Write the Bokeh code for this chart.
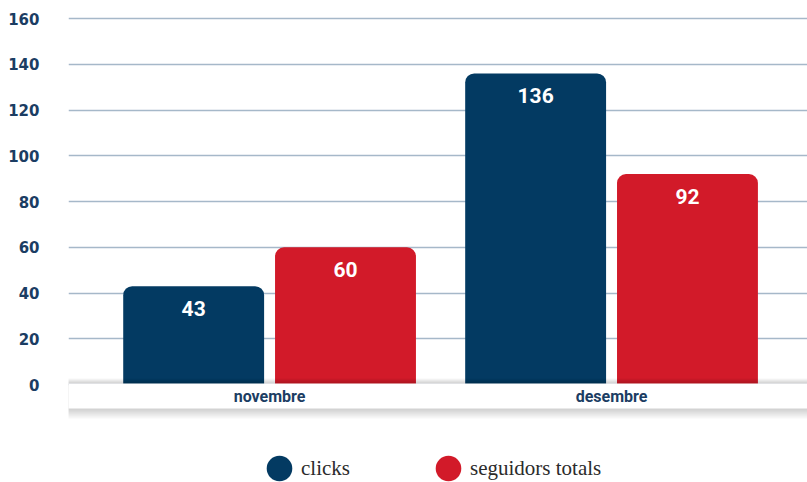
from bokeh.plotting import figure
from bokeh.models import (Range1d, ColumnDataSource, FixedTicker, Label,
                          BoxAnnotation, Legend, LegendItem)
from bokeh.transform import dodge
from bokeh.core.properties import value
from bokeh.embed import file_html
from bokeh.resources import INLINE

# ---- data ----
months = ["novembre", "desembre"]
clicks = [43, 136]
seguidors = [60, 92]
series_names = ["clicks", "seguidors totals"]
y_ticks = [0, 20, 40, 60, 80, 100, 120, 140, 160]

# ---- style ----
colors = ["#033a62", "#d21a29"]
label_blue = "#1b3d63"
grid_color = "#a6b8c9"

src = ColumnDataSource(dict(
    x=list(range(len(months))),
    month=months,
    clicks=clicks,
    seguidors=seguidors,
    clicks_lbl=[str(v) for v in clicks],
    seg_lbl=[str(v) for v in seguidors],
))

p = figure(width=807, height=482, output_backend="svg", toolbar_location=None,
           x_range=Range1d(-0.588, 1.573), y_range=Range1d(-42.84, 167.87),
           min_border_left=68, min_border_right=0, min_border_top=0,
           min_border_bottom=0)
p.outline_line_color = None
p.xaxis.visible = False
p.xgrid.visible = False
p.ygrid.ticker = FixedTicker(ticks=y_ticks)
p.ygrid.grid_line_color = grid_color
p.ygrid.grid_line_width = 1.5

ax = p.yaxis[0]
ax.ticker = FixedTicker(ticks=y_ticks)
ax.axis_line_color = None
ax.major_tick_line_color = None
ax.minor_tick_line_color = None
ax.major_label_standoff = 23
ax.major_label_text_color = label_blue
ax.major_label_text_font = "DejaVu Sans"
ax.major_label_text_font_style = "bold"
ax.major_label_text_font_size = "15px"

off = 0.222
bw = 0.412
p.vbar(x=dodge("x", -off, range=p.x_range), top="clicks", width=bw, source=src,
       fill_color=colors[0], line_color=None, border_radius=(9, 9, 0, 0))
p.vbar(x=dodge("x", off, range=p.x_range), top="seguidors", width=bw, source=src,
       fill_color=colors[1], line_color=None, border_radius=(9, 9, 0, 0))

for col, lbl, d in (("clicks", "clicks_lbl", -off), ("seguidors", "seg_lbl", off)):
    p.text(x=dodge("x", d, range=p.x_range), y=col, text=lbl, source=src,
           text_align="center", text_baseline="middle", y_offset=22,
           text_color="white", text_font=value("Roboto"),
           text_font_style="bold", text_font_size="21px")

# bottom category band with soft shadow
px = 2.2875
for k in range(5, 0, -1):
    p.add_layout(BoxAnnotation(left=-5 - k, left_units="screen",
                               top=0.4 + k * 1.0 / px, bottom=-10.5 - k * 2.0 / px,
                               fill_color="black", fill_alpha=0.035,
                               line_color=None))
p.add_layout(BoxAnnotation(left=-5, left_units="screen", top=0.4, bottom=-10.5,
                           fill_color="white", fill_alpha=1.0, line_color=None))

for i, m in enumerate(months):
    p.add_layout(Label(x=i, y=0, text=m, y_offset=-12, text_align="center",
                       text_baseline="middle", text_color=label_blue,
                       text_font="Roboto", text_font_style="bold",
                       text_font_size="16px"))

nan = float("nan")
r1 = p.ellipse(x=[nan], y=[nan], width=20, height=20, width_units="screen",
               height_units="screen", fill_color=colors[0], line_color=None)
r2 = p.ellipse(x=[nan], y=[nan], width=20, height=20, width_units="screen",
               height_units="screen", fill_color=colors[1], line_color=None)
legend = Legend(items=[LegendItem(label=series_names[0], renderers=[r1]),
                       LegendItem(label=series_names[1], renderers=[r2])],
                orientation="horizontal", location=(195, -2),
                glyph_width=32, glyph_height=32, label_standoff=6, spacing=82,
                padding=0, margin=0, border_line_color=None,
                background_fill_alpha=0, label_text_font="Liberation Serif",
                label_text_font_size="21px", label_text_color="#2b2b2b")
p.add_layout(legend)

open("out.html", "w").write(file_html(p, INLINE))
